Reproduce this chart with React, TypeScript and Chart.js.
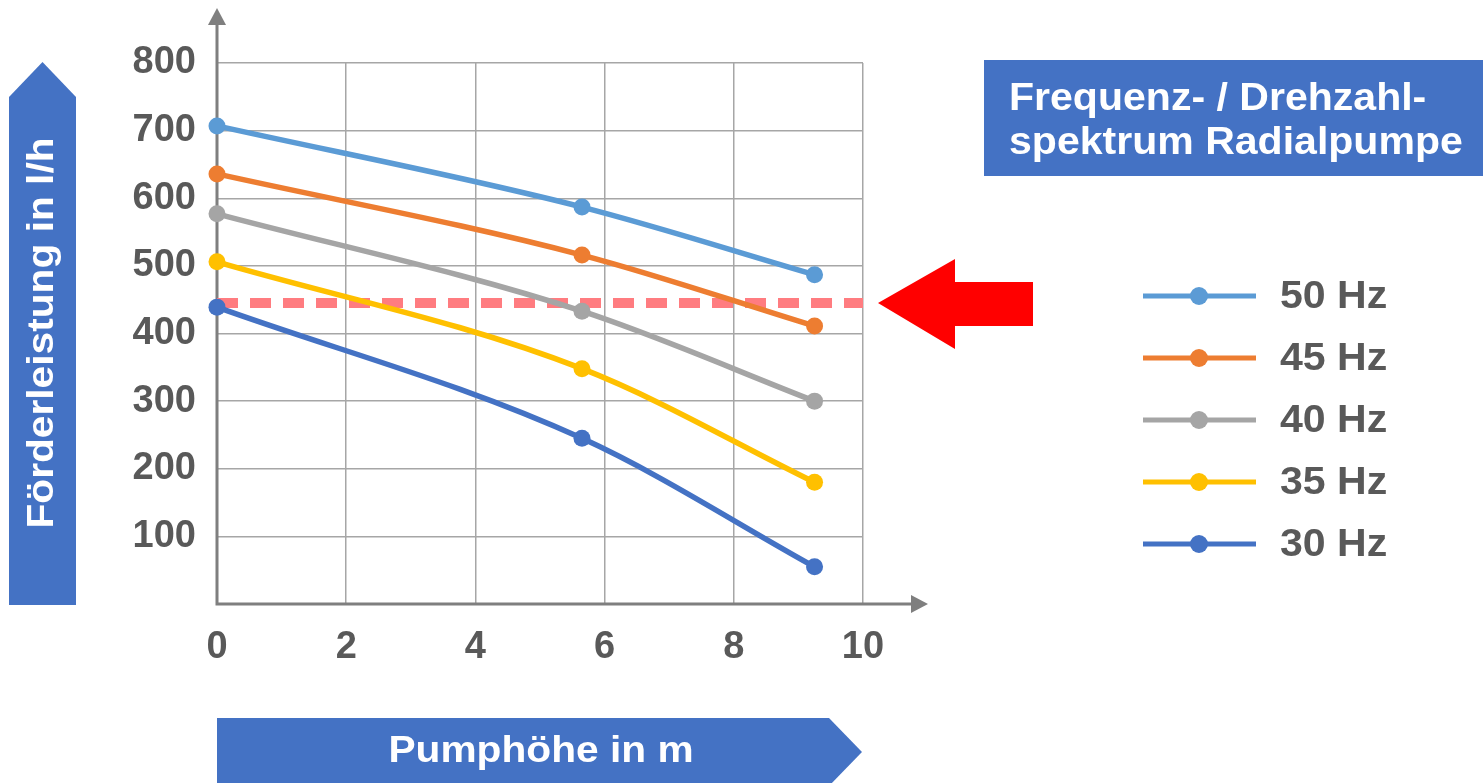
import React, { useEffect, useRef } from 'react';
import { Chart, registerables } from 'chart.js';

Chart.register(...registerables);

// ---- data ----
const pumpHeights = [0, 5.65, 9.25];
const series50 = [707, 587, 487];
const series45 = [636, 516, 411];
const series40 = [577, 433, 300];
const series35 = [506, 348, 180];
const series30 = [439, 245, 55];
const seriesLabels = ['50 Hz', '45 Hz', '40 Hz', '35 Hz', '30 Hz'];
const seriesColors = ['#5B9BD5', '#ED7D31', '#A5A5A5', '#FFC000', '#4472C4'];
const xTickValues = [0, 2, 4, 6, 8, 10];
const yTickValues = [0, 100, 200, 300, 400, 500, 600, 700, 800];
const thresholdValue = [445];
const titleLines = ['Frequenz- / Drehzahl-', 'spektrum Radialpumpe'];
const xAxisTitle = 'Pumphöhe in m';
const yAxisTitle = 'Förderleistung in l/h';

const FONT = "'Liberation Sans', Arial, Helvetica, sans-serif";
const BOX_BLUE = '#4472C4';
const TICK_COLOR = '#595959';
const AXIS_COLOR = '#7F7F7F';

function scaledText(
  ctx: CanvasRenderingContext2D,
  text: string,
  x: number,
  y: number,
  size: number,
  sx: number,
  align: CanvasTextAlign,
  color: string,
  rotate = 0
) {
  ctx.save();
  ctx.translate(x, y);
  if (rotate) ctx.rotate(rotate);
  ctx.scale(sx, 1);
  ctx.font = `bold ${size}px ${FONT}`;
  ctx.textAlign = align;
  ctx.textBaseline = 'middle';
  ctx.fillStyle = color;
  ctx.fillText(text, 0, 0);
  ctx.restore();
}

const decorPlugin = {
  id: 'decor',
  beforeDatasetsDraw(chart: any) {
    const ctx: CanvasRenderingContext2D = chart.ctx;
    const { left, right, bottom } = chart.chartArea;
    const xs = chart.scales.x;
    const ys = chart.scales.y;
    ctx.save();
    // axes with arrows
    ctx.strokeStyle = AXIS_COLOR;
    ctx.fillStyle = AXIS_COLOR;
    ctx.lineWidth = 3;
    ctx.beginPath();
    ctx.moveTo(left, bottom);
    ctx.lineTo(left, 22);
    ctx.moveTo(left - 1.5, bottom);
    ctx.lineTo(right + 52, bottom);
    ctx.stroke();
    ctx.beginPath();
    ctx.moveTo(left, 8);
    ctx.lineTo(left - 9, 25);
    ctx.lineTo(left + 9, 25);
    ctx.closePath();
    ctx.fill();
    ctx.beginPath();
    ctx.moveTo(right + 65, bottom);
    ctx.lineTo(right + 48, bottom - 9);
    ctx.lineTo(right + 48, bottom + 9);
    ctx.closePath();
    ctx.fill();

    // dashed threshold line
    const ty = ys.getPixelForValue(thresholdValue[0]);
    ctx.strokeStyle = '#FF7C80';
    ctx.lineWidth = 10;
    ctx.setLineDash([21, 12]);
    ctx.beginPath();
    ctx.moveTo(xs.getPixelForValue(xTickValues[0]), ty);
    ctx.lineTo(xs.getPixelForValue(xTickValues[xTickValues.length - 1]), ty);
    ctx.stroke();
    ctx.setLineDash([]);
    ctx.restore();
  },
  afterDraw(chart: any) {
    const ctx: CanvasRenderingContext2D = chart.ctx;
    const { left, right } = chart.chartArea;
    const ys = chart.scales.y;
    ctx.save();

    // red arrow
    const ty = ys.getPixelForValue(thresholdValue[0]);
    const tipX = right + 15;
    ctx.fillStyle = '#FF0000';
    ctx.beginPath();
    ctx.moveTo(tipX, ty);
    ctx.lineTo(tipX + 77, ty - 44);
    ctx.lineTo(tipX + 77, ty - 21);
    ctx.lineTo(tipX + 155, ty - 21);
    ctx.lineTo(tipX + 155, ty + 23);
    ctx.lineTo(tipX + 77, ty + 23);
    ctx.lineTo(tipX + 77, ty + 46);
    ctx.closePath();
    ctx.fill();

    // y-axis title box (arrow up)
    ctx.fillStyle = BOX_BLUE;
    ctx.beginPath();
    ctx.moveTo(9, 97);
    ctx.lineTo(42.5, 62);
    ctx.lineTo(76, 97);
    ctx.lineTo(76, 605);
    ctx.lineTo(9, 605);
    ctx.closePath();
    ctx.fill();
    scaledText(ctx, yAxisTitle, 43, 333, 37, 1.1, 'center', '#FFFFFF', -Math.PI / 2);

    // x-axis title box (arrow right)
    ctx.fillStyle = BOX_BLUE;
    ctx.beginPath();
    ctx.moveTo(left, 718);
    ctx.lineTo(829, 718);
    ctx.lineTo(862, 752);
    ctx.lineTo(829, 786);
    ctx.lineTo(left, 786);
    ctx.closePath();
    ctx.fill();
    scaledText(ctx, xAxisTitle, 541, 752, 37, 1.1, 'center', '#FFFFFF');

    // title box
    ctx.fillStyle = BOX_BLUE;
    ctx.fillRect(984, 60, 499, 116);
    scaledText(ctx, titleLines[0], 1009, 100, 38, 1.08, 'left', '#FFFFFF');
    scaledText(ctx, titleLines[1], 1009, 144, 38, 1.08, 'left', '#FFFFFF');

    // legend
    chart.data.datasets.forEach((ds: any, i: number) => {
      const y = 296 + i * 62;
      ctx.strokeStyle = ds.borderColor;
      ctx.lineWidth = 5;
      ctx.beginPath();
      ctx.moveTo(1143, y);
      ctx.lineTo(1256, y);
      ctx.stroke();
      ctx.fillStyle = ds.borderColor;
      ctx.beginPath();
      ctx.arc(1199, y, 9, 0, Math.PI * 2);
      ctx.fill();
      scaledText(ctx, ds.label, 1280, y + 2, 38, 1.08, 'left', TICK_COLOR);
    });
    ctx.restore();
  },
};

export default function App() {
  const canvasRef = useRef<HTMLCanvasElement | null>(null);

  useEffect(() => {
    if (!canvasRef.current) return;
    const allSeries = [series50, series45, series40, series35, series30];
    const chart = new Chart(canvasRef.current, {
      type: 'line',
      data: {
        datasets: allSeries.map((s, i) => ({
          label: seriesLabels[i],
          data: s.map((v, j) => ({ x: pumpHeights[j], y: v })),
          borderColor: seriesColors[i],
          backgroundColor: seriesColors[i],
          borderWidth: 5.5,
          pointRadius: 8.5,
          pointBorderWidth: 0,
          pointBackgroundColor: seriesColors[i],
          cubicInterpolationMode: 'monotone',
          fill: false,
          clip: false,
        })),
      },
      options: {
        responsive: false,
        animation: false,
        layout: { padding: { left: 9, right: 620, top: 63, bottom: 109 } },
        plugins: { legend: { display: false }, tooltip: { enabled: false } },
        scales: {
          x: {
            type: 'linear',
            min: 0,
            max: 10,
            afterFit: (scale: any) => {
              scale.height = 70;
              scale.paddingLeft = 0;
              scale.paddingRight = 0;
            },
            afterBuildTicks: (scale: any) => {
              scale.ticks = xTickValues.map((v) => ({ value: v }));
            },
            grid: { color: '#A6A6A6', lineWidth: 1.5, drawTicks: false },
            border: { display: false },
            ticks: {
              padding: 21,
              color: TICK_COLOR,
              font: { family: FONT, size: 38, weight: 'bold' },
              maxRotation: 0,
              callback: (v: any) => String(v),
            },
          },
          y: {
            type: 'linear',
            min: 0,
            max: 800,
            afterFit: (scale: any) => {
              scale.width = 208;
              scale.paddingTop = 0;
              scale.paddingBottom = 0;
            },
            afterBuildTicks: (scale: any) => {
              scale.ticks = yTickValues.map((v) => ({ value: v }));
            },
            grid: { color: '#A6A6A6', lineWidth: 1.5, drawTicks: false },
            border: { display: false },
            ticks: {
              padding: 21,
              color: TICK_COLOR,
              font: { family: FONT, size: 38, weight: 'bold' },
              callback: (v: any) => (v === 0 ? '' : String(v)),
            },
          },
        },
      } as any,
      plugins: [decorPlugin],
    });
    return () => chart.destroy();
  }, []);

  return (
    <div style={{ position: 'fixed', left: 0, top: 0, width: 1483, height: 783, background: '#FFFFFF' }}>
      <canvas ref={canvasRef} width={1483} height={783} style={{ display: 'block' }} />
    </div>
  );
}
